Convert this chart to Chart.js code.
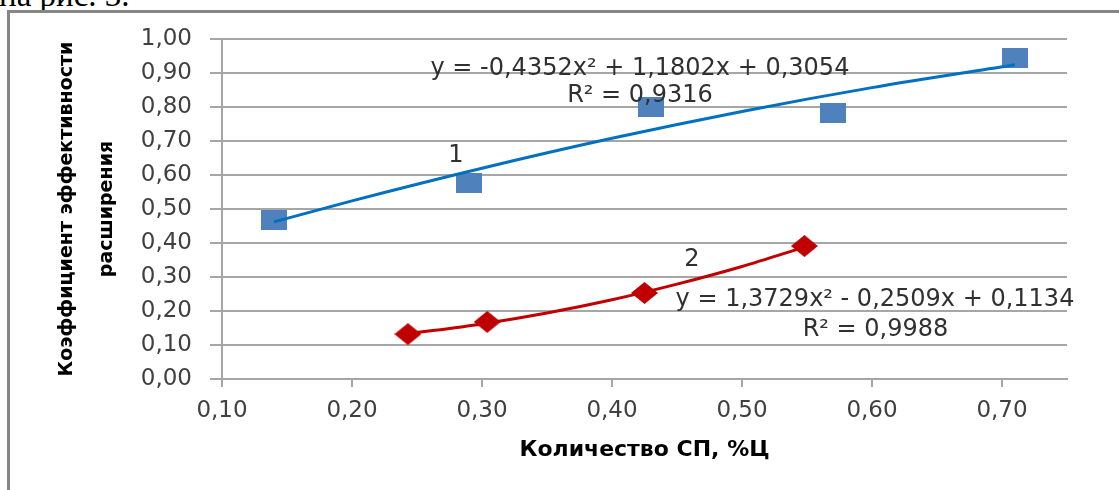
<!DOCTYPE html>
<html>
<head>
<meta charset="utf-8">
<script src="https://cdn.jsdelivr.net/npm/chart.js@4"></script>
<style>
  html, body { margin: 0; padding: 0; background: #fff; }
  body { width: 1119px; height: 490px; position: relative; overflow: hidden; }
  #caption { position: absolute; left: -1px; top: -21px; font: 33px "Liberation Serif", serif; line-height: 33px; color: #000; }
  #frame { position: absolute; left: 7px; top: 10px; width: 1200px; height: 600px; border-left: 3px solid #868686; border-top: 3px solid #868686; }
  #wrap { position: absolute; left: 0; top: 0; width: 1119px; height: 490px; }
</style>
</head>
<body>
<div id="caption">на рис. 3.</div>
<div id="frame"></div>
<div id="wrap"><canvas id="chart" width="1119" height="490"></canvas></div>
<script>
// tick labels
const xTicks = [0.1, 0.2, 0.3, 0.4, 0.5, 0.6, 0.7];
const yTicks = [0, 0.1, 0.2, 0.3, 0.4, 0.5, 0.6, 0.7, 0.8, 0.9, 1.0];

// series 1 (squares) and its trend line
const s1X = [0.14, 0.29, 0.43, 0.57, 0.71];
const s1Y = [0.468, 0.576, 0.801, 0.781, 0.944];
const trend1X = [0.14, 0.2, 0.3, 0.4, 0.5, 0.6, 0.71];
const trend1Y = [0.462, 0.524, 0.620, 0.708, 0.787, 0.857, 0.924];

// series 2 (diamonds) and its trend line
const s2X = [0.243, 0.304, 0.425, 0.548];
const s2Y = [0.132, 0.168, 0.253, 0.391];
const trend2X = [0.243, 0.3, 0.35, 0.4, 0.45, 0.5, 0.548];
const trend2Y = [0.133, 0.162, 0.194, 0.233, 0.279, 0.331, 0.388];

const noteTexts = ['y = -0,4352x² + 1,1802x + 0,3054', 'R² = 0,9316', '1', '2',
                   'y = 1,3729x² - 0,2509x + 0,1134', 'R² = 0,9988'];

// where the notes sit, in axis units
const notePos = [[0.4215, 0.913], [0.4215, 0.832], [0.280, 0.657], [0.4615, 0.35],
                 [0.6023, 0.2324], [0.6027, 0.144]];

const pts = (xs, ys) => xs.map((x, i) => ({ x: x, y: ys[i] }));
const fmt = v => Number(v).toFixed(2).replace('.', ',');

function marker(w, h, color, diamond) {
    const c = document.createElement('canvas');
    c.width = w; c.height = h;
    const g = c.getContext('2d');
    g.fillStyle = color;
    if (diamond) {
        g.beginPath();
        g.moveTo(w / 2, 0); g.lineTo(w, h / 2); g.lineTo(w / 2, h); g.lineTo(0, h / 2);
        g.closePath(); g.fill();
    } else {
        g.fillRect(0, 0, w, h);
    }
    return c;
}

const gridColor = '#A6A6A6';
const tickFont = { family: 'DejaVu Sans', size: 23 };

const notesPlugin = {
    id: 'notes',
    afterDatasetsDraw(chart) {
        const { ctx, scales: { x, y } } = chart;
        ctx.save();
        ctx.font = '24px "DejaVu Sans"';
        ctx.fillStyle = '#303030';
        ctx.textAlign = 'center';
        ctx.textBaseline = 'middle';
        noteTexts.forEach((t, i) => {
            ctx.fillText(t, x.getPixelForValue(notePos[i][0]), y.getPixelForValue(notePos[i][1]));
        });
        ctx.restore();
    }
};

new Chart(document.getElementById('chart'), {
    type: 'scatter',
    data: {
        datasets: [{
            data: pts(trend1X, trend1Y),
            showLine: true,
            borderColor: '#0070C0',
            borderWidth: 3,
            pointRadius: 0,
            cubicInterpolationMode: 'monotone',
            order: 0
        }, {
            data: pts(s1X, s1Y),
            pointStyle: marker(26, 20, '#4F81BD', false),
            pointRadius: 13,
            order: 1
        }, {
            data: pts(trend2X, trend2Y),
            showLine: true,
            borderColor: '#C00000',
            borderWidth: 3,
            pointRadius: 0,
            cubicInterpolationMode: 'monotone',
            order: 0
        }, {
            data: pts(s2X, s2Y),
            pointStyle: marker(27, 22, '#C00000', true),
            pointRadius: 13,
            order: 1
        }]
    },
    options: {
        responsive: false,
        animation: false,
        devicePixelRatio: 1,
        layout: { padding: { top: 39, right: 52, left: 0, bottom: 0 } },
        plugins: { legend: { display: false }, tooltip: { enabled: false } },
        scales: {
            x: {
                type: 'linear',
                min: 0.1,
                max: 0.75,
                afterBuildTicks: s => { s.ticks = xTicks.map(v => ({ value: v })); },
                afterFit: s => { s.height = 111; },
                ticks: { callback: fmt, font: tickFont, color: '#404040', padding: 10, maxRotation: 0, autoSkip: false },
                grid: { drawOnChartArea: false, drawTicks: true, tickLength: 8, color: gridColor, lineWidth: 2 },
                border: { color: gridColor, width: 2 },
                title: {
                    display: true,
                    text: 'Количество СП, %Ц',
                    font: { family: 'DejaVu Sans', weight: 'bold', size: 22 },
                    color: '#000',
                    padding: { top: 0, bottom: 27 }
                }
            },
            y: {
                min: 0,
                max: 1,
                afterBuildTicks: s => { s.ticks = yTicks.map(v => ({ value: v })); },
                afterFit: s => { s.width = 222; },
                ticks: { callback: fmt, font: tickFont, color: '#404040', padding: 18, autoSkip: false },
                grid: { color: gridColor, lineWidth: 2, tickLength: 12 },
                border: { color: gridColor, width: 2 },
                title: {
                    display: true,
                    text: ['Коэффициент эффективности', 'расширения'],
                    font: { family: 'DejaVu Sans', weight: 'bold', size: 19, lineHeight: '40px' },
                    color: '#000',
                    padding: { top: 47, bottom: 0 }
                }
            }
        }
    },
    plugins: [notesPlugin]
});
</script>
</body>
</html>
